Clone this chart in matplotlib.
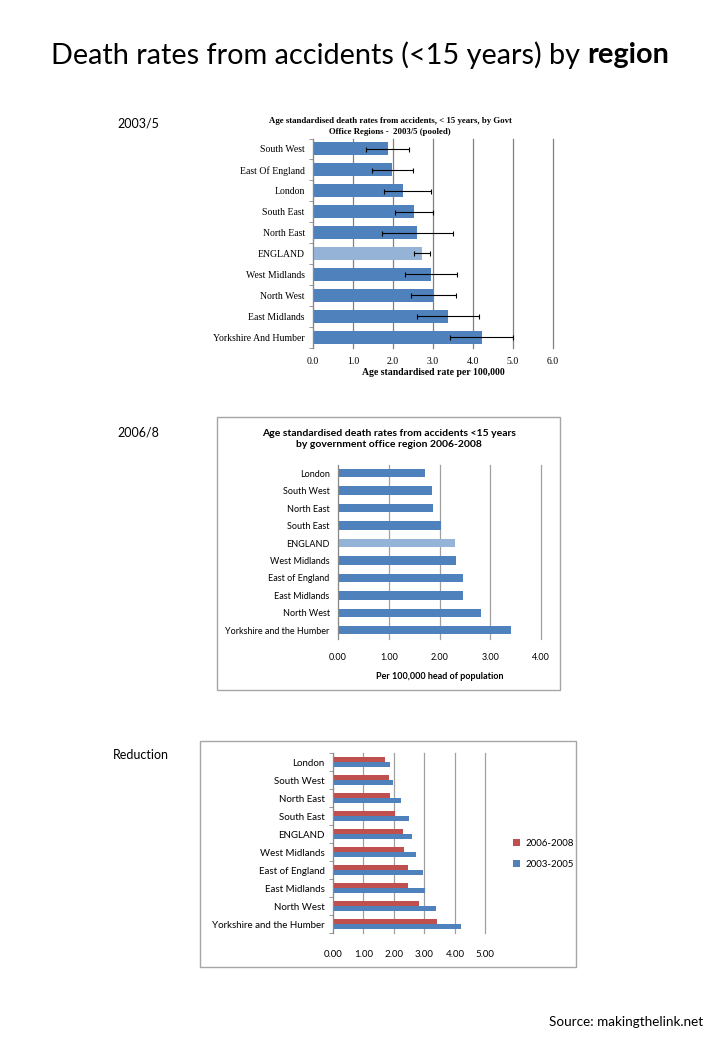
import numpy as np
import matplotlib.pyplot as plt
from matplotlib.patches import Rectangle

W, H = 720, 1040

# 2003/5 chart (pooled), with confidence intervals
regions_0305 = ["South West", "East Of England", "London", "South East", "North East",
                "ENGLAND", "West Midlands", "North West", "East Midlands",
                "Yorkshire And Humber"]
rates_0305 = [1.87, 1.98, 2.25, 2.52, 2.60, 2.72, 2.95, 3.00, 3.37, 4.22]
ci_low_0305 = [1.33, 1.48, 1.78, 2.05, 1.72, 2.52, 2.31, 2.45, 2.61, 3.43]
ci_high_0305 = [2.41, 2.50, 2.95, 2.99, 3.49, 2.92, 3.60, 3.57, 4.15, 4.99]

# 2006/8 chart
regions_0608 = ["London", "South West", "North East", "South East", "ENGLAND",
                "West Midlands", "East of England", "East Midlands", "North West",
                "Yorkshire and the Humber"]
rates_0608 = [1.72, 1.85, 1.88, 2.03, 2.31, 2.32, 2.46, 2.46, 2.82, 3.40]

# reduction chart (same order as 2006/8)
red_2006_2008 = [1.72, 1.84, 1.87, 2.02, 2.31, 2.33, 2.47, 2.47, 2.81, 3.40]
red_2003_2005 = [1.86, 1.98, 2.24, 2.51, 2.60, 2.71, 2.94, 3.01, 3.37, 4.21]

BLUE = "#4F81BD"
LIGHT = "#95B3D7"
RED = "#C0504D"
SANS = ["Lato", "DejaVu Sans"]
SERIF = ["Liberation Serif", "DejaVu Serif"]


def px_axes(fig, left, top, right, bottom):
    return fig.add_axes([left / W, 1 - bottom / H, (right - left) / W, (bottom - top) / H])


def fx(x):
    return x / W


def fy(y):
    return 1 - y / H


def style_cat_axis(ax, labels, family, size, gridcolor):
    n = len(labels)
    ax.set_ylim(n - 0.5, -0.5)
    ax.set_yticks(np.arange(n))
    ax.set_yticklabels(labels, family=family, fontsize=size)
    ax.set_yticks(np.arange(n + 1) - 0.5, minor=True)
    ax.tick_params(axis="y", which="major", length=0, pad=6)
    ax.tick_params(axis="y", which="minor", length=3, color="#888888", direction="out")
    ax.tick_params(axis="x", length=0)
    for s in ["top", "right", "bottom"]:
        ax.spines[s].set_visible(False)
    ax.spines["left"].set_color("#888888")
    ax.xaxis.grid(True, color=gridcolor, lw=0.9)
    for gl in ax.get_xgridlines():
        gl.set_clip_on(False)
    ax.set_axisbelow(True)


fig = plt.figure(figsize=(W / 100, H / 100), dpi=100)

# page title: regular part + bold "region", centred together
t1 = fig.text(0, fy(55), "Death rates from accidents (<15 years) by ", ha="left",
              va="center", fontsize=20.8, family=SANS)
t2 = fig.text(0, fy(55), "region", ha="left", va="center", fontsize=20.8,
              family=SANS, fontweight="bold")
r = fig.canvas.get_renderer()
w1 = t1.get_window_extent(r).width
w2 = t2.get_window_extent(r).width
x0 = 360 - (w1 + w2) / 2
t1.set_x(fx(x0))
t2.set_x(fx(x0 + w1))

fig.text(fx(117), fy(123), "2003/5", fontsize=9, family=SANS, va="center")
fig.text(fx(117), fy(432), "2006/8", fontsize=9, family=SANS, va="center")
fig.text(fx(113), fy(755), "Reduction", fontsize=9, family=SANS, va="center")
fig.text(fx(703), fy(1022), "Source: makingthelink.net", fontsize=9.7, family=SANS,
         ha="right", va="center")

# ---- 2003/5 ----
ax1 = px_axes(fig, 313, 138.5, 553, 347.5)
y = np.arange(len(regions_0305))
rates = np.array(rates_0305)
colors = [LIGHT if r == "ENGLAND" else BLUE for r in regions_0305]
ax1.barh(y, rates, height=0.62, color=colors, zorder=2)
ax1.errorbar(rates, y, xerr=[rates - np.array(ci_low_0305), np.array(ci_high_0305) - rates],
             fmt="none", ecolor="black", elinewidth=0.8, capsize=1.8, capthick=0.8, zorder=3)
ax1.set_xlim(0, 6)
ax1.set_xticks(np.arange(0, 7))
ax1.set_xticklabels(["%.1f" % v for v in range(7)], family=SERIF, fontsize=7)
style_cat_axis(ax1, regions_0305, SERIF, 7, "#808080")
ax1.tick_params(axis="x", pad=7)
ax1.set_xlabel("Age standardised rate per 100,000", family=SERIF, fontsize=7,
               fontweight="bold", labelpad=1)
fig.text(fx(390), fy(126.5), "Age standardised death rates from accidents, < 15 years, by Govt\n"
         "Office Regions -  2003/5 (pooled)", ha="center", va="center", family=SERIF,
         fontsize=6.3, fontweight="bold", linespacing=1.35)

# ---- 2006/8 ----
fig.patches.append(Rectangle((fx(217), fy(690)), fx(560) - fx(217), fy(417) - fy(690),
                             transform=fig.transFigure, fill=False, edgecolor="#a6a6a6", lw=1))
ax2 = px_axes(fig, 338, 464.5, 541, 639)
y = np.arange(len(regions_0608))
colors = [LIGHT if r == "ENGLAND" else BLUE for r in regions_0608]
ax2.barh(y, rates_0608, height=0.48, color=colors, zorder=2)
ax2.set_xlim(0, 4)
ax2.set_xticks(np.arange(0, 5))
ax2.set_xticklabels(["%.2f" % v for v in range(5)], family=SANS, fontsize=6.5)
style_cat_axis(ax2, regions_0608, SANS, 6.5, "#a0a0a0")
ax2.tick_params(axis="y", which="minor", length=0)
ax2.tick_params(axis="x", pad=10)
ax2.set_xlabel("Per 100,000 head of population", family=SANS, fontsize=6.5,
               fontweight="bold", labelpad=7)
fig.text(fx(389), fy(439), "Age standardised death rates from accidents <15 years\n"
         "by government office region 2006-2008", ha="center", va="center", family=SANS,
         fontsize=7.5, fontweight="bold", linespacing=1.35)

# ---- Reduction ----
fig.patches.append(Rectangle((fx(200), fy(967)), fx(576) - fx(200), fy(741) - fy(967),
                             transform=fig.transFigure, fill=False, edgecolor="#a6a6a6", lw=1))
ax3 = px_axes(fig, 333, 753, 485.3, 933)
y = np.arange(len(regions_0608))
ax3.barh(y - 0.14, red_2006_2008, height=0.27, color=RED, zorder=2, label="2006-2008")
ax3.barh(y + 0.14, red_2003_2005, height=0.27, color=BLUE, zorder=2, label="2003-2005")
ax3.set_xlim(0, 5)
ax3.set_xticks(np.arange(0, 6))
ax3.set_xticklabels(["%.2f" % v for v in range(6)], family=SANS, fontsize=7)
style_cat_axis(ax3, regions_0608, SANS, 7, "#a0a0a0")
ax3.tick_params(axis="x", pad=12)
fig.legend(loc="center left", bbox_to_anchor=(fx(504), fy(854)), frameon=False,
           prop={"family": SANS, "size": 7}, handlelength=0.7, handleheight=0.7,
           handletextpad=0.6, labelspacing=1.2)

fig.savefig("out.png", dpi=100)
